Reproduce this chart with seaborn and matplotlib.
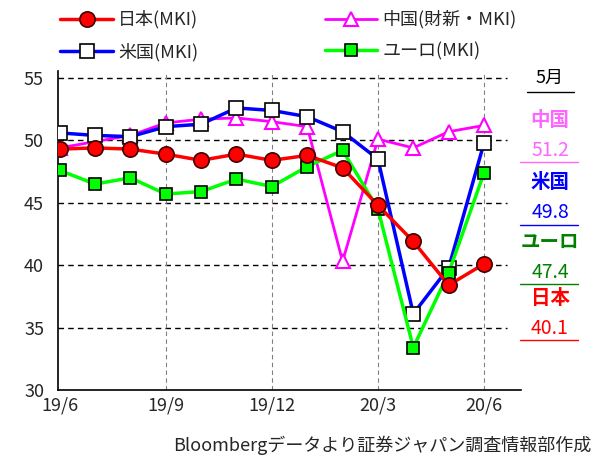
import numpy as np
import pandas as pd
import matplotlib
matplotlib.use('Agg')
import matplotlib.pyplot as plt
import seaborn as sns

# data (monthly PMI, 19/6 .. 20/6)
months = ['19/6','19/7','19/8','19/9','19/10','19/11','19/12','20/1','20/2','20/3','20/4','20/5','20/6']
japan = [49.3, 49.4, 49.3, 48.9, 48.4, 48.9, 48.4, 48.8, 47.8, 44.8, 41.9, 38.4, 40.1]
china = [49.4, 49.9, 50.4, 51.4, 51.7, 51.8, 51.5, 51.1, 40.3, 50.1, 49.4, 50.7, 51.2]
usa = [50.6, 50.4, 50.3, 51.1, 51.3, 52.6, 52.4, 51.9, 50.7, 48.5, 36.1, 39.8, 49.8]
euro = [47.6, 46.5, 47.0, 45.7, 45.9, 46.9, 46.3, 47.9, 49.2, 44.5, 33.4, 39.4, 47.4]
tick_pos = [0, 3, 6, 9, 12]
tick_labels = ['19/6', '19/9', '19/12', '20/3', '20/6']

sns.set_style('white')
plt.rcParams['font.family'] = ['Noto Sans CJK JP', 'DejaVu Sans']

df = pd.DataFrame({'x': np.arange(len(months)), 'japan': japan, 'china': china,
                   'usa': usa, 'euro': euro})

W, H = 597, 455
fig = plt.figure(figsize=(W / 100, H / 100), dpi=100)
ax = fig.add_axes([0.097, 0.143, 0.776, 0.702])

# grid first
for y in [35, 40, 45, 50, 55]:
    ax.axhline(y, xmax=0.97, color='black', lw=1, ls=(0, (4, 3)), zorder=1)
for x in tick_pos[1:]:
    ax.axvline(x, color='gray', lw=0.8, ls=(0, (4, 3)), zorder=1)

sns.lineplot(data=df, x='x', y='china', ax=ax, color='#ff00ff', lw=2, marker='^',
             markersize=10, markerfacecolor='white', markeredgecolor='#ff00ff',
             markeredgewidth=1.5, label='中国(財新・MKI)', zorder=3)
sns.lineplot(data=df, x='x', y='usa', ax=ax, color='#0000ff', lw=2.5, marker='s',
             markersize=10, markerfacecolor='white', markeredgecolor='black',
             markeredgewidth=1.2, label='米国(MKI)', zorder=4)
sns.lineplot(data=df, x='x', y='euro', ax=ax, color='#00ff00', lw=2.5, marker='s',
             markersize=9, markerfacecolor='#00ff00', markeredgecolor='black',
             markeredgewidth=1.2, label='ユーロ(MKI)', zorder=5)
sns.lineplot(data=df, x='x', y='japan', ax=ax, color='#ff0000', lw=2.5, marker='o',
             markersize=11, markerfacecolor='#ff0000', markeredgecolor='#400000',
             markeredgewidth=1.2, label='日本(MKI)', zorder=6)

ax.set_xlim(-0.05, 13.05)
ax.set_ylim(30, 55.6)
ax.set_yticks([30, 35, 40, 45, 50, 55])
ax.set_yticklabels(['30', '35', '40', '45', '50', '55'], fontsize=13)
ax.set_xticks(tick_pos)
ax.set_xticklabels(tick_labels, fontsize=13)
ax.tick_params(axis='x', direction='in', length=4, width=0.8, pad=5)
ax.tick_params(axis='y', length=0, pad=10)
ax.set_xlabel('')
ax.set_ylabel('')
for s in ['top', 'right']:
    ax.spines[s].set_visible(False)
for s in ['left', 'bottom']:
    ax.spines[s].set_color('black')
    ax.spines[s].set_linewidth(1.2)

# legend on top
h, l = ax.get_legend_handles_labels()
order = [3, 1, 0, 2]
ax.get_legend().remove()
fig.legend([h[i] for i in order], [l[i] for i in order], ncol=2, loc='upper left',
           bbox_to_anchor=(0.095, 0.985), frameon=False, fontsize=13, handlelength=2.9,
           columnspacing=7.0, labelspacing=0.75, handletextpad=0.3,
           borderaxespad=0, borderpad=0.2)

# right side labels
def fy(py):
    return 1 - py / H

fig.text(550 / W, fy(78), '5月', fontsize=13, ha='center', va='center', color='black')
fig.add_artist(plt.Line2D([527 / W, 574 / W], [fy(92), fy(92)], color='black', lw=1))
side_names = ['中国', '米国', 'ユーロ', '日本']
side_vals = ['51.2', '49.8', '47.4', '40.1']
side_cols = ['#ff66ff', '#0000ff', '#008000', '#ff0000']
name_y = [120, 183, 242, 298]
for name, val, col, py in zip(side_names, side_vals, side_cols, name_y):
    fig.text(550 / W, fy(py), name, fontsize=14, ha='center', va='center',
             color=col, fontweight='bold')
    fig.text(550 / W, fy(py + 30), val, fontsize=14, ha='center', va='center', color=col)
    fig.add_artist(plt.Line2D([520 / W, 578 / W], [fy(py + 42), fy(py + 42)],
                              color=col, lw=1))

fig.text(0.99, 0.008, 'Bloombergデータより証券ジャパン調査情報部作成', fontsize=13, ha='right')

fig.savefig('out.png', dpi=100)
